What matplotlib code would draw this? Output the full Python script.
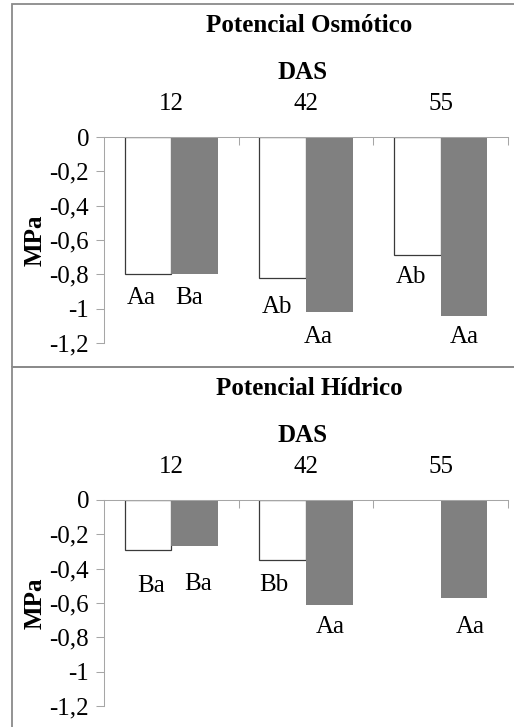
import numpy as np
import matplotlib.pyplot as plt
from matplotlib.patches import Rectangle

plt.rcParams['font.family'] = ['Liberation Serif', 'DejaVu Serif']

# dias apos a semeadura
das = ['12', '42', '55']

# potencial osmotico (MPa)
osm_branco = [-0.80, -0.82, -0.69]
osm_cinza = [-0.80, -1.02, -1.04]
osm_letras_branco = ['Aa', 'Ab', 'Ab']
osm_letras_cinza = ['Ba', 'Aa', 'Aa']

# potencial hidrico (MPa) - sem valor para o tratamento branco aos 55 DAS
hid_branco = [-0.29, -0.35, np.nan]
hid_cinza = [-0.27, -0.61, -0.57]
hid_letras_branco = ['Ba', 'Bb', '']
hid_letras_cinza = ['Ba', 'Aa', 'Aa']

yticks = [0, -0.2, -0.4, -0.6, -0.8, -1, -1.2]
ytick_labels = ['0', '-0,2', '-0,4', '-0,6', '-0,8', '-1', '-1,2']

W, H = 514, 727
fig = plt.figure(figsize=(W / 100, H / 100), dpi=100)


def fx(px):
    return px / W


def fy(py):
    return 1 - py / H


# deslocamento dos rotulos (pixels) em relacao ao fim de cada barra
desl_osm_b = [(-7, -30), (-6, -35), (-6, -28)]
desl_osm_c = [(-6, -30), (-11, -31), (0, -27)]
desl_hid_b = [(3, -42), (-9, -31), (0, 0)]
desl_hid_c = [(3, -44), (1, -28), (6, -35)]

fs = 18


def painel(top, titulo, branco, cinza, let_b, let_c, d_b, d_c):
    # caixa em volta do painel
    y0, y1 = top + 4, top + 366.5
    if top > 0:
        y0, y1 = top + 3.5, top + 380
    fig.patches.append(Rectangle((fx(11.5), fy(y1)), 1.2, fy(y0) - fy(y1),
                                 transform=fig.transFigure, fill=False,
                                 edgecolor='#8a8a8a', linewidth=1.3))
    ax = fig.add_axes([fx(104), fy(top + 343), fx(508) - fx(104), fy(top + 137) - fy(top + 343)])
    x = np.arange(len(das))
    w = 0.347
    ax.bar(x - w / 2, branco, w, color='white', edgecolor='#3a3a3a', linewidth=0.9, zorder=2)
    ax.bar(x + w / 2, cinza, w, color='#808080', edgecolor='none', zorder=2)

    for i in range(len(das)):
        if let_b[i]:
            ax.annotate(let_b[i], (x[i] - w / 2, branco[i]), xytext=d_b[i],
                        textcoords='offset pixels', ha='center', va='baseline', fontsize=fs)
        ax.annotate(let_c[i], (x[i] + w / 2, cinza[i]), xytext=d_c[i],
                    textcoords='offset pixels', ha='center', va='baseline', fontsize=fs)

    ax.set_xlim(-0.5, 2.5)
    ax.set_ylim(-1.2, 0)
    ax.set_yticks(yticks)
    ax.set_yticklabels(ytick_labels)
    ax.tick_params(axis='y', direction='out', length=5.8, width=0.75, color='#a6a6a6',
                   labelsize=fs, pad=5)

    ax.xaxis.tick_top()
    ax.set_xticks(x)
    ax.set_xticklabels(das)
    ax.set_xticks([0.5, 1.5, 2.5], minor=True)
    ax.tick_params(axis='x', which='major', length=0, labelsize=fs, pad=16)
    ax.tick_params(axis='x', which='minor', direction='in', length=5.8, width=0.75, color='#a6a6a6')

    for s in ['right', 'bottom']:
        ax.spines[s].set_visible(False)
    for s in ['left', 'top']:
        ax.spines[s].set_color('#a6a6a6')
        ax.spines[s].set_linewidth(0.75)

    ax.set_ylabel('MPa', fontsize=18, fontweight='bold', labelpad=2)
    fig.text(fx(309), fy(top + 31.7), titulo, ha='center', va='baseline',
             fontsize=18, fontweight='bold')
    fig.text(fx(303), fy(top + 79), 'DAS', ha='center', va='baseline',
             fontsize=18, fontweight='bold')
    return ax


painel(0, 'Potencial Osmótico', osm_branco, osm_cinza,
       osm_letras_branco, osm_letras_cinza, desl_osm_b, desl_osm_c)
painel(363, 'Potencial Hídrico', hid_branco, hid_cinza,
       hid_letras_branco, hid_letras_cinza, desl_hid_b, desl_hid_c)

fig.savefig('out.png', dpi=100)
